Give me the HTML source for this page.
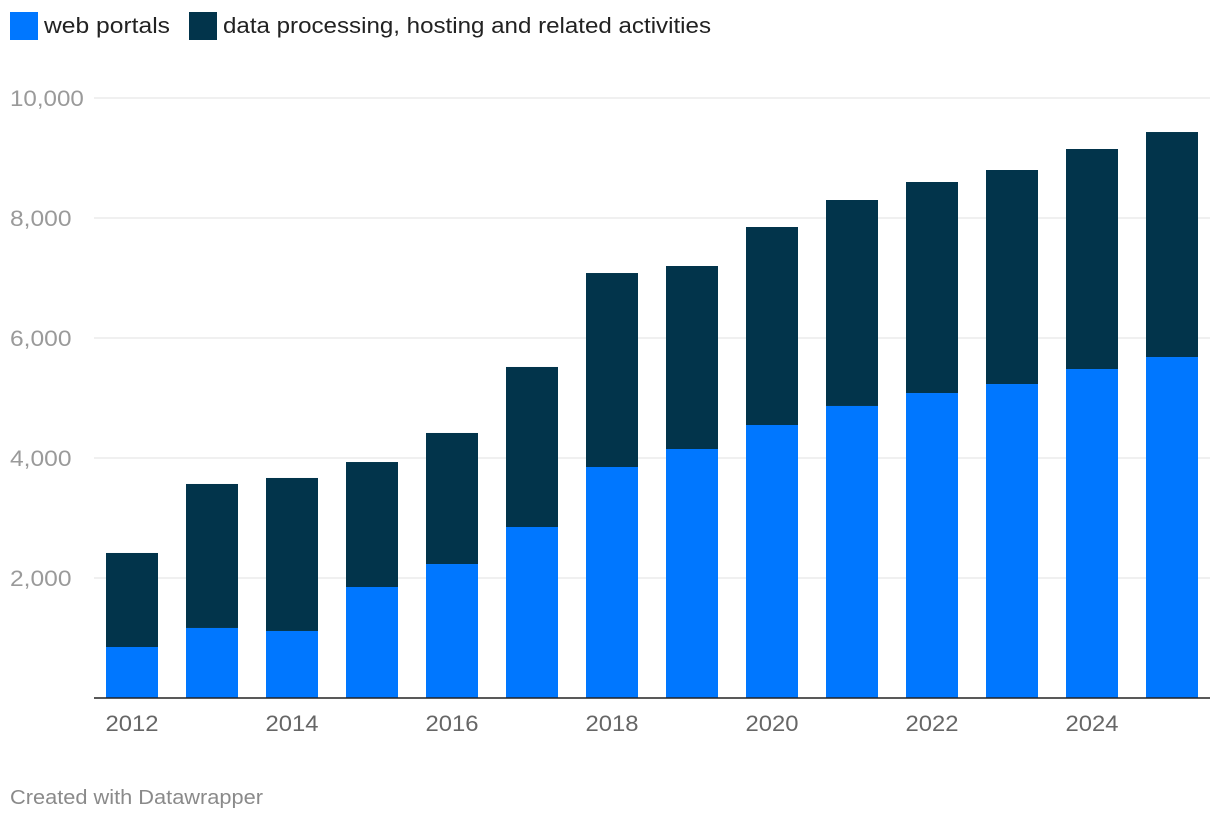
<!DOCTYPE html>
<html><head><meta charset="utf-8"><style>
body{margin:0;background:#fff;width:1220px;height:822px;overflow:hidden;font-family:"Liberation Sans",Arial,sans-serif;}
</style></head><body>
<svg id="chart" width="1220" height="822" xmlns="http://www.w3.org/2000/svg">
<g>
<rect x="10" y="12" width="28" height="28" fill="#0077ff"/>
<text x="44" y="33" font-size="22" fill="#222" textLength="126" lengthAdjust="spacingAndGlyphs">web portals</text>
<rect x="189" y="12" width="28" height="28" fill="#02344b"/>
<text x="223" y="33" font-size="22" fill="#222" textLength="488" lengthAdjust="spacingAndGlyphs">data processing, hosting and related activities</text>
</g>
<g id="grid"></g><g id="bars"></g><g id="xlabels"></g>
<line x1="94" y1="698" x2="1210" y2="698" stroke="#222" stroke-width="1.5"/>
<text x="10" y="804" font-size="20" fill="#8a8a8a" textLength="253" lengthAdjust="spacingAndGlyphs">Created with Datawrapper</text>
</svg>
<script>
const years=[2012,2013,2014,2015,2016,2017,2018,2019,2020,2021,2022,2023,2024,2025];
const webPortals=[850,1167,1117,1850,2233,2850,3850,4150,4550,4867,5083,5233,5483,5683];
const dataProcessing=[1567,2400,2550,2083,2184,2667,3233,3050,3300,3433,3517,3567,3667,3750];
const yTicks=[2000,4000,6000,8000,10000];
const yTickLabels=["2,000","4,000","6,000","8,000","10,000"];
const xLabelYears=[2012,2014,2016,2018,2020,2022,2024];
const NS="http://www.w3.org/2000/svg";
const y0=698,yScale=600/10000;
const y=v=>y0-v*yScale;
const x=i=>132+i*80;
const bw=52;
function mk(tag,attrs,parent){const e=document.createElementNS(NS,tag);for(const k in attrs)e.setAttribute(k,attrs[k]);document.getElementById(parent).appendChild(e);return e;}
yTicks.forEach((t,i)=>{
 const l=mk('line',{x1:94,x2:1210,y1:y(t),y2:y(t),stroke:'#e2e2e2','stroke-width':1},'grid');
 
 
 const lab=yTickLabels[i];
 const tx=mk('text',{x:10,y:y(t)+8,'font-size':22,fill:'#9a9a9a',textLength:lab.length*12.3,lengthAdjust:'spacingAndGlyphs'},'grid');
 tx.textContent=lab;
 
 
});
years.forEach((yr,i)=>{
 const a=mk('rect',{x:x(i)-bw/2,y:y(webPortals[i]),width:bw,height:webPortals[i]*yScale,fill:'#0077ff'},'bars');
 
 
 const tot=webPortals[i]+dataProcessing[i];
 const b=mk('rect',{x:x(i)-bw/2,y:y(tot),width:bw,height:dataProcessing[i]*yScale,fill:'#02344b'},'bars');
 
 
});
xLabelYears.forEach(yr=>{
 const i=years.indexOf(yr);
 const t=mk('text',{x:x(i),y:731,'font-size':22,fill:'#666','text-anchor':'middle',textLength:53,lengthAdjust:'spacingAndGlyphs'},'xlabels');
 t.textContent=yr;
 
 
});
</script>
</body></html>
